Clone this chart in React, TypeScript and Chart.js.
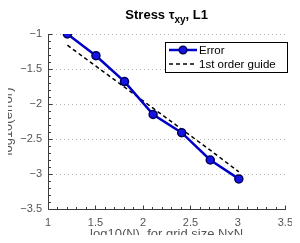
import React, { useEffect, useRef } from "react";
import { Chart, registerables } from "chart.js";

Chart.register(...registerables);

const logN = [1.204, 1.505, 1.806, 2.107, 2.408, 2.709, 3.01];
const errorVals = [-1.0, -1.31, -1.68, -2.15, -2.41, -2.8, -3.07];
const guideVals = [-1.16, -1.46, -1.76, -2.06, -2.36, -2.66, -2.97];
const xTicks = [1, 1.5, 2, 2.5, 3, 3.5];
const yTicks = [-3.5, -3, -2.5, -2, -1.5, -1];
const seriesNames = ["Error", "1st order guide"];
const titleParts = ["Stress τ", "xy", ", L1"];
const xTitle = "log10(N), for grid size NxN";
const yTitle = "log10(error)";

const FONT = "'Liberation Sans', Arial, Helvetica, sans-serif";
const LINE_BLUE = "#0000c8";
const MARK_FILL = "#1414e6";
const MARK_EDGE = "#00005a";
const TEXT_GRAY = "#555555";

const fmt = (v: number) => (v < 0 ? "\u2212" + String(Math.abs(v)) : String(v));

const decorPlugin = {
  id: "decor",
  beforeDatasetsDraw(chart: any) {
    const ctx = chart.ctx;
    const { left, right, top, bottom } = chart.chartArea;
    const xs = chart.scales.x;
    const ys = chart.scales.y;
    ctx.save();
    ctx.strokeStyle = "#b4b4b4";
    ctx.lineWidth = 1;
    ctx.setLineDash([1, 3]);
    yTicks.forEach((v) => {
      if (v === yTicks[0]) return;
      const y = Math.round(ys.getPixelForValue(v)) + 0.5;
      ctx.beginPath();
      ctx.moveTo(left, y);
      ctx.lineTo(right, y);
      ctx.stroke();
    });
    ctx.setLineDash([]);
    ctx.strokeStyle = "#3c3c3c";
    const bx = Math.round(left) + 0.5;
    const by = Math.round(bottom) + 0.5;
    ctx.beginPath();
    ctx.moveTo(bx, Math.round(top));
    ctx.lineTo(bx, by);
    ctx.lineTo(Math.round(right) + 1, by);
    ctx.stroke();
    for (let i = 0; i <= 25; i++) {
      const v = 1 + i * 0.1;
      const x = Math.round(xs.getPixelForValue(v)) + 0.5;
      const len = i % 5 === 0 ? 4 : 2.5;
      ctx.beginPath();
      ctx.moveTo(x, by);
      ctx.lineTo(x, by - len);
      ctx.stroke();
    }
    for (let i = 0; i <= 25; i++) {
      const v = -3.5 + i * 0.1;
      const y = Math.round(ys.getPixelForValue(v)) + 0.5;
      const len = i % 5 === 0 ? 4 : 2.5;
      ctx.beginPath();
      ctx.moveTo(bx, y);
      ctx.lineTo(bx + len, y);
      ctx.stroke();
    }
    ctx.restore();
  },
  afterDraw(chart: any) {
    const ctx = chart.ctx;
    const { left, right, top, bottom } = chart.chartArea;
    ctx.save();
    ctx.fillStyle = TEXT_GRAY;
    ctx.font = `13px ${FONT}`;
    ctx.textAlign = "center";
    ctx.textBaseline = "alphabetic";
    ctx.fillText(xTitle, (left + right) / 2, 238);
    ctx.save();
    ctx.translate(12, (top + bottom) / 2);
    ctx.rotate(-Math.PI / 2);
    ctx.fillText(yTitle, 0, 0);
    ctx.restore();

    const bigFont = `bold 13px ${FONT}`;
    const subFont = `bold 10px ${FONT}`;
    ctx.font = bigFont;
    const w0 = ctx.measureText(titleParts[0]).width;
    const w2 = ctx.measureText(titleParts[2]).width;
    ctx.font = subFont;
    const w1 = ctx.measureText(titleParts[1]).width;
    const total = w0 + w1 + w2;
    let tx = (left + right) / 2 - total / 2;
    const ty = 19;
    ctx.fillStyle = "#000";
    ctx.textBaseline = "alphabetic";
    ctx.textAlign = "left";
    ctx.font = bigFont;
    ctx.fillText(titleParts[0], tx, ty);
    tx += w0;
    ctx.font = subFont;
    ctx.fillText(titleParts[1], tx, ty + 4);
    tx += w1;
    ctx.font = bigFont;
    ctx.fillText(titleParts[2], tx, ty);

    const lx = 165.5, ly = 42.5, lw = 122, lh = 30;
    ctx.fillStyle = "#fff";
    ctx.fillRect(lx, ly, lw, lh);
    ctx.strokeStyle = "#000";
    ctx.lineWidth = 1;
    ctx.strokeRect(lx, ly, lw, lh);
    const r1 = 50, r2 = 64;
    ctx.strokeStyle = LINE_BLUE;
    ctx.lineWidth = 2.5;
    ctx.beginPath();
    ctx.moveTo(169, r1);
    ctx.lineTo(197, r1);
    ctx.stroke();
    ctx.beginPath();
    ctx.arc(183, r1, 3.8, 0, Math.PI * 2);
    ctx.fillStyle = MARK_FILL;
    ctx.fill();
    ctx.strokeStyle = MARK_EDGE;
    ctx.lineWidth = 1.5;
    ctx.stroke();
    ctx.strokeStyle = "#000";
    ctx.lineWidth = 1.5;
    ctx.setLineDash([4, 3]);
    ctx.beginPath();
    ctx.moveTo(169, r2);
    ctx.lineTo(197, r2);
    ctx.stroke();
    ctx.setLineDash([]);
    ctx.fillStyle = "#000";
    ctx.font = `11.5px ${FONT}`;
    ctx.textBaseline = "middle";
    ctx.fillText(seriesNames[0], 199, r1 + 0.5);
    ctx.fillText(seriesNames[1], 199, r2 + 0.5);
    ctx.restore();
  },
};

export default function App() {
  const ref = useRef<HTMLCanvasElement | null>(null);
  useEffect(() => {
    if (!ref.current) return;
    const chart = new Chart(ref.current, {
      type: "line",
      data: {
        datasets: [
          {
            label: seriesNames[0],
            data: logN.map((x, i) => ({ x, y: errorVals[i] })),
            borderColor: LINE_BLUE,
            borderWidth: 2.5,
            backgroundColor: MARK_FILL,
            pointBackgroundColor: MARK_FILL,
            pointBorderColor: MARK_EDGE,
            pointBorderWidth: 1.5,
            pointRadius: 4,
            tension: 0,
            order: 1,
          },
          {
            label: seriesNames[1],
            data: logN.map((x, i) => ({ x, y: guideVals[i] })),
            borderColor: "#000",
            borderWidth: 1.5,
            borderDash: [4, 3],
            pointRadius: 0,
            tension: 0,
            order: 2,
          },
        ],
      },
      plugins: [decorPlugin],
      options: {
        animation: false,
        responsive: false,
        maintainAspectRatio: false,
        layout: { padding: { top: 34, right: 12, left: 0, bottom: 0 } },
        plugins: {
          legend: { display: false },
          title: { display: false },
          tooltip: { enabled: false },
        },
        scales: {
          x: {
            type: "linear",
            min: 1,
            max: 3.5,
            grid: { display: false, drawTicks: false },
            border: { display: false },
            afterBuildTicks: (s: any) => {
              s.ticks = xTicks.map((v) => ({ value: v }));
            },
            afterFit: (s: any) => {
              s.height = 34;
            },
            ticks: {
              padding: 7,
              color: TEXT_GRAY,
              font: { family: FONT, size: 11 },
              callback: (v: any) => fmt(Number(v)),
            },
            title: { display: false },
          },
          y: {
            type: "linear",
            min: -3.5,
            max: -1,
            grid: { display: false, drawTicks: false },
            border: { display: false },
            afterBuildTicks: (s: any) => {
              s.ticks = yTicks.map((v) => ({ value: v }));
            },
            afterFit: (s: any) => {
              s.width = 48;
            },
            ticks: {
              padding: 6,
              color: TEXT_GRAY,
              font: { family: FONT, size: 11 },
              callback: (v: any) => fmt(Number(v)),
            },
            title: { display: false },
          },
        },
      },
    });
    return () => chart.destroy();
  }, []);
  return (
    <div style={{ margin: "-8px", width: 300, height: 243, position: "relative", background: "#fff" }}>
      <canvas ref={ref} width={300} height={243} style={{ display: "block", width: 300, height: 243 }} />
    </div>
  );
}
